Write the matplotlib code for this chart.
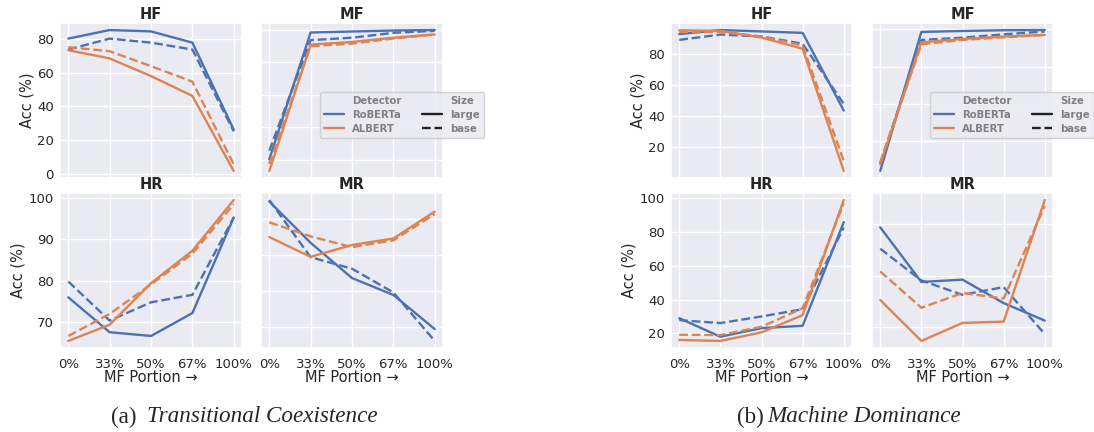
import matplotlib
matplotlib.use("Agg")
import matplotlib.pyplot as plt
from matplotlib.lines import Line2D
import seaborn as sns

sns.set_theme(style="darkgrid")
plt.rcParams['font.family'] = ['DejaVu Sans']

portions = ["0%", "33%", "50%", "67%", "100%"]
detectors = ["RoBERTa", "ALBERT"]
sizes = ["large", "base"]

# (a) Transitional Coexistence
a_hf = {("RoBERTa", "large"): [80.4, 85.5, 84.7, 78.0, 26.2],
        ("RoBERTa", "base"): [73.9, 80.4, 78.0, 73.9, 25.2],
        ("ALBERT", "large"): [73.5, 68.6, 58.1, 46.3, 1.6],
        ("ALBERT", "base"): [75.3, 72.9, 64.0, 54.8, 5.5]}
a_mf = {("RoBERTa", "large"): [20.4, 98.2, 98.8, 99.4, 99.7],
        ("RoBERTa", "base"): [25.7, 93.5, 95.0, 98.0, 99.2],
        ("ALBERT", "large"): [13.3, 90.8, 92.4, 95.0, 97.0],
        ("ALBERT", "base"): [17.6, 89.8, 91.4, 94.5, 97.0]}
a_hr = {("RoBERTa", "large"): [76.0, 67.6, 66.7, 72.2, 95.2],
        ("RoBERTa", "base"): [79.8, 70.4, 74.8, 76.6, 95.2],
        ("ALBERT", "large"): [65.5, 69.4, 79.4, 87.2, 99.4],
        ("ALBERT", "base"): [66.7, 72.0, 79.1, 86.5, 98.4]}
a_mr = {("RoBERTa", "large"): [94.9, 83.4, 73.6, 68.9, 59.4],
        ("RoBERTa", "base"): [95.3, 79.4, 76.2, 69.6, 56.1],
        ("ALBERT", "large"): [85.0, 79.5, 82.8, 84.6, 92.1],
        ("ALBERT", "base"): [89.1, 85.2, 82.2, 84.1, 91.4]}

# (b) Machine Dominance
b_hf = {("RoBERTa", "large"): [92.6, 95.2, 94.3, 93.4, 43.6],
        ("RoBERTa", "base"): [88.9, 92.3, 91.1, 86.4, 47.9],
        ("ALBERT", "large"): [95.0, 94.7, 90.4, 83.2, 4.9],
        ("ALBERT", "base"): [93.8, 94.0, 91.1, 85.3, 11.3]}
b_mf = {("RoBERTa", "large"): [24.1, 98.6, 99.1, 99.5, 99.6],
        ("RoBERTa", "base"): [28.2, 94.3, 95.5, 97.3, 98.8],
        ("ALBERT", "large"): [27.7, 93.0, 94.8, 96.1, 97.0],
        ("ALBERT", "base"): [28.8, 92.0, 94.3, 95.7, 97.0]}
b_hr = {("RoBERTa", "large"): [29.0, 18.0, 23.1, 24.5, 85.9],
        ("RoBERTa", "base"): [27.8, 26.1, 30.0, 34.3, 82.7],
        ("ALBERT", "large"): [16.1, 15.5, 20.6, 30.8, 99.0],
        ("ALBERT", "base"): [19.2, 19.0, 23.9, 34.9, 97.1]}
b_mr = {("RoBERTa", "large"): [78.8, 57.6, 58.5, 49.4, 42.6],
        ("RoBERTa", "base"): [70.5, 58.2, 52.6, 55.6, 37.4],
        ("ALBERT", "large"): [50.6, 34.7, 41.7, 42.2, 89.4],
        ("ALBERT", "base"): [61.7, 47.6, 53.3, 51.2, 87.1]}

colors = {"RoBERTa": "#4C72B0", "ALBERT": "#DD8452"}
styles = {"large": "-", "base": "--"}

W, H = 1094, 432
fig = plt.figure(figsize=(W / 100, H / 100), dpi=100)


def add_ax(x0, x1, y0, y1):
    return fig.add_axes([x0 / W, 1 - y1 / H, (x1 - x0) / W, (y1 - y0) / H])


def draw(ax, data, title, left, bottom):
    for det in detectors:
        for sz in sizes:
            ax.plot(range(len(portions)), data[(det, sz)], color=colors[det],
                    ls=styles[sz], lw=1.7)
    ax.set_title(title, fontsize=10.5, fontweight="bold", pad=3)
    ax.set_xticks(range(len(portions)))
    ax.tick_params(labelsize=9.5)
    ax.tick_params(axis="x", length=0, pad=7.5)
    ax.tick_params(axis="y", length=0, pad=4.5)
    if bottom:
        ax.set_xticklabels(portions)
        ax.set_xlabel("MF Portion \u2192", fontsize=10.5, labelpad=-1)
    else:
        ax.set_xticklabels([])
    if left:
        ax.set_ylabel("Acc (%)", fontsize=10.5, labelpad=2)
    else:
        ax.tick_params(labelleft=False)


groups = [(60, 242, 261, 443, [a_hf, a_mf, a_hr, a_mr]),
          (671, 852, 872, 1053, [b_hf, b_mf, b_hr, b_mr])]
titles = ["HF", "MF", "HR", "MR"]
for lx0, lx1, rx0, rx1, datas in groups:
    axs = [add_ax(lx0, lx1, 23, 178), add_ax(rx0, rx1, 23, 178),
           add_ax(lx0, lx1, 193, 348), add_ax(rx0, rx1, 193, 348)]
    for i, ax in enumerate(axs):
        draw(ax, datas[i], titles[i], left=(i % 2 == 0), bottom=(i >= 2))

# legends
handles = [Line2D([], [], color="none"),
           Line2D([], [], color=colors["RoBERTa"], lw=1.7),
           Line2D([], [], color=colors["ALBERT"], lw=1.7),
           Line2D([], [], color="none"),
           Line2D([], [], color="#222222", lw=1.7, ls="-"),
           Line2D([], [], color="#222222", lw=1.7, ls="--")]
labels = ["Detector", "RoBERTa", "ALBERT", "Size", "large", "base"]
for cx in (402, 1012):
    leg = fig.legend(handles, labels, ncol=2, loc="center",
                     bbox_to_anchor=(cx / W, 1 - 115 / H),
                     fontsize=7.3, handlelength=2.0, columnspacing=2.0,
                     labelspacing=0.35, borderpad=0.4, handletextpad=0.8,
                     facecolor="#EAEAF2", edgecolor="#cccccc", framealpha=0.85)
    for t in leg.get_texts():
        t.set_color("#808080")
        t.set_fontweight("bold")

# captions
cap_font = "Liberation Serif"
cap_y = 1 - 417 / H
fig.text(136 / W, cap_y, "(a)", ha="right", va="center",
         family=cap_font, fontsize=16.7)
fig.text(147 / W, cap_y, "Transitional Coexistence", ha="left",
         va="center", family=cap_font, style="italic", fontsize=16.7)
fig.text(764 / W, cap_y, "(b)", ha="right", va="center",
         family=cap_font, fontsize=16.7)
fig.text(767 / W, cap_y, "Machine Dominance", ha="left",
         va="center", family=cap_font, style="italic", fontsize=16.7)

fig.savefig("out.png", dpi=100)
